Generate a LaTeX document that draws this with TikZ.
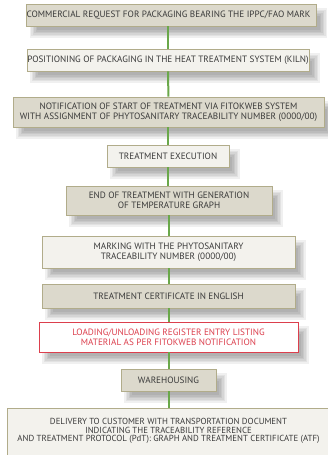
\documentclass[tikz,border=0pt]{standalone}
\usepackage{fontspec}
\setmainfont{PT Sans}
\usetikzlibrary{backgrounds}
\definecolor{beigefill}{HTML}{DCD9CC}
\definecolor{lightfill}{HTML}{F3F2ED}
\definecolor{olivedraw}{HTML}{B1AC8A}
\definecolor{redc}{HTML}{DC3F4D}
\definecolor{grn}{HTML}{6AA84A}
\definecolor{txt}{HTML}{3A3A3A}
\tikzset{
  box/.style={draw=olivedraw, line width=0.9pt, align=center, inner sep=0pt,
    font=\fontsize{9.2}{10}\selectfont, text=txt},
  darkbox/.style={box, fill=beigefill},
  lightbox/.style={box, fill=lightfill},
  redbox/.style={box, fill=white, draw=redc, text=redc},
  plaintext/.style={align=center, inner sep=0pt, text=txt,
    font=\fontsize{8.8}{8.7}\selectfont},
  conn/.style={draw=grn, line width=2pt},
}
\newcommand\shadowfor[1]{%
  \foreach \e in {-4,-2.5,-1,0.5,2,3.5}{%
    \fill[black,opacity=0.06]
      ([xshift={(7-\e)*1pt}, yshift={(-8+\e)*1pt}]#1.north west) rectangle
      ([xshift={(7+\e)*1pt}, yshift={(-8-\e)*1pt}]#1.south east);
  }%
}
\begin{document}
\begin{tikzpicture}[x=1pt,y=-1pt]
\useasboundingbox (0,0) rectangle (327,455);
\node[darkbox, minimum width=289pt, minimum height=22pt] (b1) at (171.5,15)
  {COMMERCIAL REQUEST FOR PACKAGING BEARING THE IPPC/FAO MARK\hspace*{6pt}};
\node[lightbox, minimum width=282pt, minimum height=22pt] (b2) at (168,60)
  {POSITIONING OF PACKAGING IN THE HEAT TREATMENT SYSTEM (KILN)};
\node[darkbox, minimum width=311pt, minimum height=30pt] (b3) at (168.5,112)
  {NOTIFICATION OF START OF TREATMENT VIA FITOKWEB SYSTEM\\WITH ASSIGNMENT OF PHYTOSANITARY TRACEABILITY NUMBER (0000/00)};
\node[lightbox, minimum width=122pt, minimum height=22pt] (b4) at (168,156)
  {TREATMENT EXECUTION};
\node[darkbox, minimum width=206pt, minimum height=29pt] (b5) at (169,200.5)
  {END OF TREATMENT WITH GENERATION\\OF TEMPERATURE GRAPH};
\node[lightbox, minimum width=253pt, minimum height=32pt] (b6) at (168.5,252)
  {MARKING WITH THE PHYTOSANITARY\\TRACEABILITY NUMBER (0000/00)};
\node[darkbox, minimum width=253pt, minimum height=24pt] (b7) at (168.5,296)
  {TREATMENT CERTIFICATE IN ENGLISH};
\node[redbox, minimum width=259pt, minimum height=30pt] (b8) at (168.5,337)
  {LOADING/UNLOADING REGISTER ENTRY LISTING\\MATERIAL AS PER FITOKWEB NOTIFICATION};
\node[darkbox, minimum width=95pt, minimum height=22pt] (b9) at (168.5,380)
  {WAREHOUSING};
\node[lightbox, minimum width=323pt, minimum height=60pt] (b10) at (168.5,438) {};
\node[plaintext] (b10t) at (168.5,431)
  {DELIVERY TO CUSTOMER WITH TRANSPORTATION DOCUMENT\\INDICATING THE TRACEABILITY REFERENCE\\AND TREATMENT PROTOCOL (PdT): GRAPH AND TREATMENT CERTIFICATE (ATF)};
\begin{scope}[on background layer]
  \foreach \n in {b1,b2,b3,b4,b5,b6,b7,b8,b9,b10}{\shadowfor{\n}}
\end{scope}
\draw[conn] (b1.south -| b2.north) -- (b2.north);
\draw[conn] (b2) -- (b3);
\draw[conn] (b3.south -| b4.north) -- (b4.north);
\draw[conn] (b4.south) -- (b4.south |- b5.north);
\draw[conn] (b5.south -| b6.north) -- (b6.north);
\draw[conn] (b6) -- (b7);
\draw[conn] (b7) -- (b8);
\draw[conn] (b8) -- (b9);
\draw[conn] (b9) -- (b10.north -| b9.south);
\end{tikzpicture}
\end{document}
